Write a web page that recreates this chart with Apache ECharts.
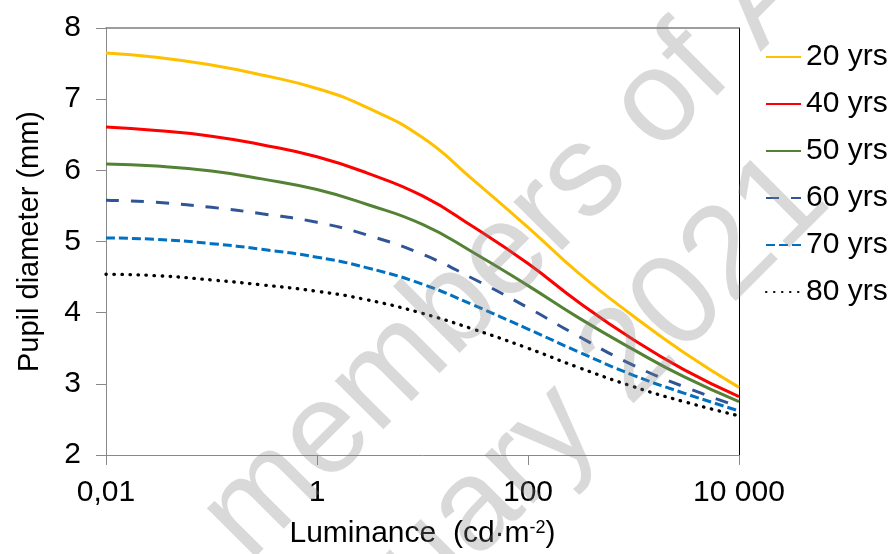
<!DOCTYPE html>
<html>
<head>
<meta charset="utf-8">
<script src="https://cdn.jsdelivr.net/npm/echarts@6/dist/echarts.min.js"></script>
<style>
html, body { margin: 0; padding: 0; background: #fff; }
#chart { width: 890px; height: 554px; }
</style>
</head>
<body>
<div id="chart"></div>
<script>
// luminance (cd/m2) sample points
var luminance = [0.01, 0.03, 0.1, 0.3, 1, 3, 10, 30, 100, 300, 1000, 3000, 10000];

// pupil diameter (mm) per age group
var age20 = [7.65, 7.59, 7.48, 7.34, 7.15, 6.88, 6.46, 5.87, 5.20, 4.56, 3.95, 3.44, 2.95];
var age40 = [6.61, 6.56, 6.48, 6.36, 6.19, 5.96, 5.64, 5.21, 4.69, 4.15, 3.62, 3.20, 2.82];
var age50 = [6.09, 6.06, 5.99, 5.88, 5.73, 5.52, 5.24, 4.85, 4.38, 3.93, 3.48, 3.10, 2.75];
var age60 = [5.58, 5.55, 5.48, 5.39, 5.27, 5.09, 4.82, 4.48, 4.07, 3.67, 3.26, 2.96, 2.68];
var age70 = [5.05, 5.03, 4.97, 4.89, 4.78, 4.63, 4.40, 4.11, 3.77, 3.45, 3.12, 2.87, 2.62];
var age80 = [4.54, 4.52, 4.46, 4.39, 4.30, 4.18, 3.99, 3.77, 3.50, 3.23, 2.96, 2.75, 2.55];

var xTicks = [0.01, 1, 100, 10000];
var xTickLabels = ['0,01', '1', '100', '10 000'];

var FONT = '"Liberation Sans", Arial, sans-serif';

function pairs(vals) {
	return luminance.map(function (l, i) {
		return [Math.log10(l), vals[i]];
	});
}

function mkSeries(name, vals, color, dash, width, cap) {
	return {
		name: name,
		type: 'line',
		smooth: 0.5,
		symbol: 'none',
		lineStyle: {
			color: color,
			width: width,
			type: dash,
			cap: cap || 'butt'
		},
		itemStyle: { color: color },
		data: pairs(vals)
	};
}

var myChart = echarts.init(document.getElementById('chart'), null, { renderer: 'canvas' });

var option = {
	animation: false,
	grid: { left: 106, right: 151, top: 28, bottom: 93 },
	legend: {
		orient: 'vertical',
		left: 760,
		top: 37,
		itemWidth: 35,
		itemHeight: 14,
		itemGap: 17,
		// hide the marker the line series puts in the middle of the legend line
		itemStyle: { color: 'rgba(0,0,0,0)', borderColor: 'rgba(0,0,0,0)', borderWidth: 0 },
		textStyle: { fontSize: 30, color: '#000', fontFamily: FONT, lineHeight: 30 },
		data: ['20 yrs', '40 yrs', '50 yrs', '60 yrs', '70 yrs', '80 yrs']
	},
	xAxis: [{
		type: 'value',
		min: -2,
		max: 4,
		interval: 2,
		name: 'Luminance  (cd\u00B7m{sup|-2})',
		nameLocation: 'middle',
		nameGap: 64,
		nameTextStyle: {
			fontSize: 30, color: '#000', fontFamily: FONT,
			rich: { sup: { fontSize: 18, verticalAlign: 'top', lineHeight: 14, color: '#000', fontFamily: FONT } }
		},
		axisLine: { onZero: false, lineStyle: { color: '#898989', width: 1 } },
		axisTick: { show: true, length: 10, inside: false, lineStyle: { color: '#898989' } },
		axisLabel: {
			fontSize: 30, color: '#000', fontFamily: FONT, margin: 23,
			formatter: function (v) {
				for (var i = 0; i < xTicks.length; i++) {
					if (Math.abs(Math.log10(xTicks[i]) - v) < 1e-6) return xTickLabels[i];
				}
				return '';
			}
		},
		splitLine: { show: false }
	}, {
		type: 'value',
		position: 'top',
		min: -2,
		max: 4,
		axisLine: { onZero: false, lineStyle: { color: '#7f7f7f', width: 1.5 } },
		axisTick: { show: false },
		axisLabel: { show: false },
		splitLine: { show: false }
	}],
	yAxis: [{
		type: 'value',
		min: 2,
		max: 8,
		interval: 1,
		name: 'Pupil diameter (mm)',
		nameLocation: 'middle',
		nameGap: 62,
		nameTextStyle: { fontSize: 29, color: '#000', fontFamily: FONT },
		axisLine: { show: true, onZero: false, lineStyle: { color: '#898989', width: 1 } },
		axisTick: { show: true, length: 10, inside: false, lineStyle: { color: '#898989' } },
		axisLabel: { fontSize: 30, color: '#000', fontFamily: FONT, margin: 25 },
		splitLine: { show: false }
	}, {
		type: 'value',
		position: 'right',
		min: 2,
		max: 8,
		axisLine: { show: true, onZero: false, lineStyle: { color: '#000', width: 1 } },
		axisTick: { show: false },
		axisLabel: { show: false },
		splitLine: { show: false }
	}],
	series: [
		mkSeries('20 yrs', age20, '#FFC000', 'solid', 3),
		mkSeries('40 yrs', age40, '#FF0000', 'solid', 3),
		mkSeries('50 yrs', age50, '#548235', 'solid', 3),
		mkSeries('60 yrs', age60, '#2F5597', [13, 12], 3),
		mkSeries('70 yrs', age70, '#0070C0', [9, 4], 3),
		mkSeries('80 yrs', age80, '#000000', [0.5, 7.5], 3.3, 'round')
	],
	graphic: [{
		type: 'text',
		x: 224,
		y: 538,
		rotation: Math.PI / 4,
		z: 100,
		silent: true,
		style: {
			text: 'members of A',
			font: '130px "Liberation Sans", Arial, sans-serif',
			fill: 'rgba(128,128,128,0.3)',
			textAlign: 'left',
			textVerticalAlign: 'middle'
		}
	}, {
		type: 'text',
		x: 251,
		y: 735,
		rotation: Math.PI / 4,
		z: 100,
		silent: true,
		style: {
			text: 'January 2021',
			font: '130px "Liberation Sans", Arial, sans-serif',
			fill: 'rgba(128,128,128,0.3)',
			textAlign: 'left',
			textVerticalAlign: 'middle'
		}
	}]
};

myChart.setOption(option);
</script>
</body>
</html>
